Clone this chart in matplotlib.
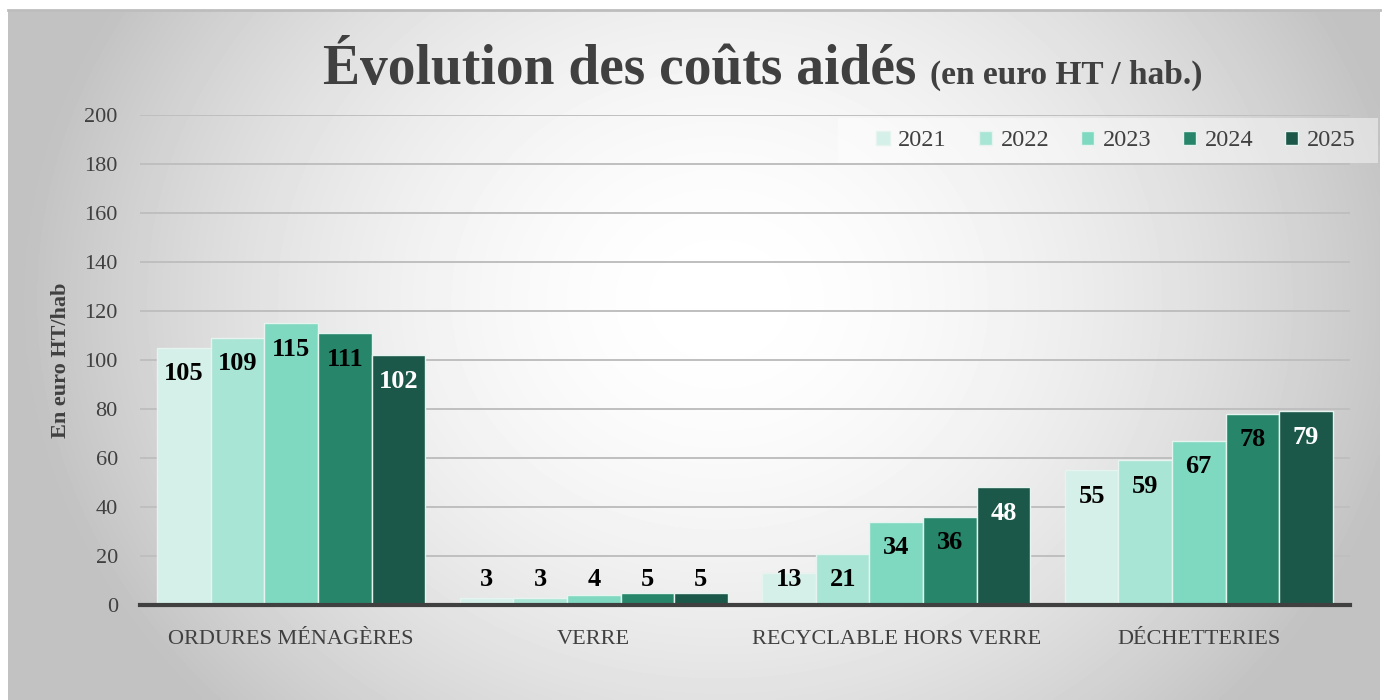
"""Évolution des coûts aidés - bar chart per waste stream
"""

import numpy as np
import matplotlib
matplotlib.use('Agg')
import matplotlib.pyplot as plt
from matplotlib.patches import Rectangle

W, H = 1386, 700

categories = ['ORDURES MÉNAGÈRES', 'VERRE', 'RECYCLABLE HORS VERRE', 'DÉCHETTERIES']
years = ['2021', '2022', '2023', '2024', '2025']
v2021 = [105, 3, 13, 55]
v2022 = [109, 3, 21, 59]
v2023 = [115, 4, 34, 67]
v2024 = [111, 5, 36, 78]
v2025 = [102, 5, 48, 79]
series = [v2021, v2022, v2023, v2024, v2025]
colors = ['#d5f0e8', '#a8e5d5', '#7fd8c0', '#27866a', '#1b5849']
label_colors = ['black', 'black', 'black', 'black', 'white']
yticks = list(range(0, 201, 20))

SERIF = ['Liberation Serif', 'DejaVu Serif']
TXT = '#404040'

plt.rcParams['font.family'] = SERIF

fig = plt.figure(figsize=(W / 100, H / 100), dpi=100)
fig.patch.set_facecolor('white')

# Background panel with a radial grey gradient
bg = fig.add_axes([8 / W, 0, (1380 - 8) / W, 690 / H], zorder=-5)
gx = np.linspace(8, 1380, 400)
gy = np.linspace(10, 700, 200)
XX, YY = np.meshgrid(gx, gy)
cx, cy = 720, 300
r = np.sqrt(((XX - cx) / 700) ** 2 + ((YY - cy) / 600) ** 2)
r = np.clip(r, 0, 1)
shade = 1.0 - (1.0 - 0.76) * r ** 1.8
bg.imshow(shade, cmap='gray', vmin=0, vmax=1, aspect='auto',
          extent=[0, 1, 0, 1], origin='upper', interpolation='bilinear')
bg.plot([0, 1], [1, 1], color='#bdbdbd', lw=2, transform=bg.transAxes, clip_on=False)
bg.set_axis_off()

# Main plotting area
ax = fig.add_axes([140 / W, 95 / H, (1350 - 140) / W, (605 - 115) / H])
ax.set_facecolor('none')
ax.set_xlim(-0.5, len(categories) - 0.5)
ax.set_ylim(0, 200)

x = np.arange(len(categories))
bw = 0.177
px_per_unit = (605 - 115) / 200.0
for i, (vals, col) in enumerate(zip(series, colors)):
    xs = x + (i - 2) * bw
    ax.bar(xs, vals, width=bw, color=col, edgecolor='#e6f4ef', linewidth=1,
           label=years[i], zorder=3)
    for xi, v in zip(xs, vals):
        inside = v - 26 / px_per_unit
        floor = 25 / px_per_unit
        ly = max(inside, floor)
        lc = label_colors[i] if inside >= floor else 'black'
        ax.text(xi, ly, str(v), ha='center', va='center', fontsize=19,
                fontweight='bold', color=lc, zorder=4)

ax.set_yticks(yticks)
ax.set_yticklabels([str(t) for t in yticks], fontsize=16, color=TXT)
ax.set_xticks(x)
ax.set_xticklabels(categories, fontsize=16, color=TXT)
ax.tick_params(axis='both', length=0)
ax.tick_params(axis='x', pad=18)
ax.tick_params(axis='y', pad=16)
ax.grid(axis='y', color='#bfbfbf', linewidth=1.4, zorder=1)
for s in ['top', 'right', 'left']:
    ax.spines[s].set_visible(False)
ax.spines['bottom'].set_color('#404040')
ax.spines['bottom'].set_linewidth(3)
ax.spines['bottom'].set_zorder(5)
ax.set_ylabel('En euro HT/hab', fontsize=16, fontweight='bold', color=TXT, labelpad=10)

# Legend: light box drawn separately, entries on top without frame
fig.patches.append(Rectangle((838 / W, 1 - 163 / H), (1378 - 838) / W, 45 / H,
                             transform=fig.transFigure, facecolor='white',
                             alpha=0.45, edgecolor='none', zorder=1))
leg = fig.legend(loc='center', bbox_to_anchor=(1116 / W, 1 - 141 / H), ncol=5,
                 fontsize=17.5, frameon=False, handlelength=0.55,
                 handleheight=0.55, handletextpad=0.35, columnspacing=1.3,
                 borderpad=0, borderaxespad=0)
for t in leg.get_texts():
    t.set_color(TXT)

# Title in two sizes on one baseline, centred as a whole
t1 = fig.text(0, 1 - 84 / H, 'Évolution des coûts aidés', fontsize=40,
              fontweight='bold', color=TXT, va='baseline', ha='left')
t2 = fig.text(0, 1 - 84 / H, '(en euro HT / hab.)', fontsize=24,
              fontweight='bold', color=TXT, va='baseline', ha='left')
fig.canvas.draw()
r = fig.canvas.get_renderer()
w1 = t1.get_window_extent(r).width
w2 = t2.get_window_extent(r).width
gap = 14
left = 763 - (w1 + gap + w2) / 2
t1.set_x(left / W)
t2.set_x((left + w1 + gap) / W)

fig.savefig('out.png', dpi=100)
